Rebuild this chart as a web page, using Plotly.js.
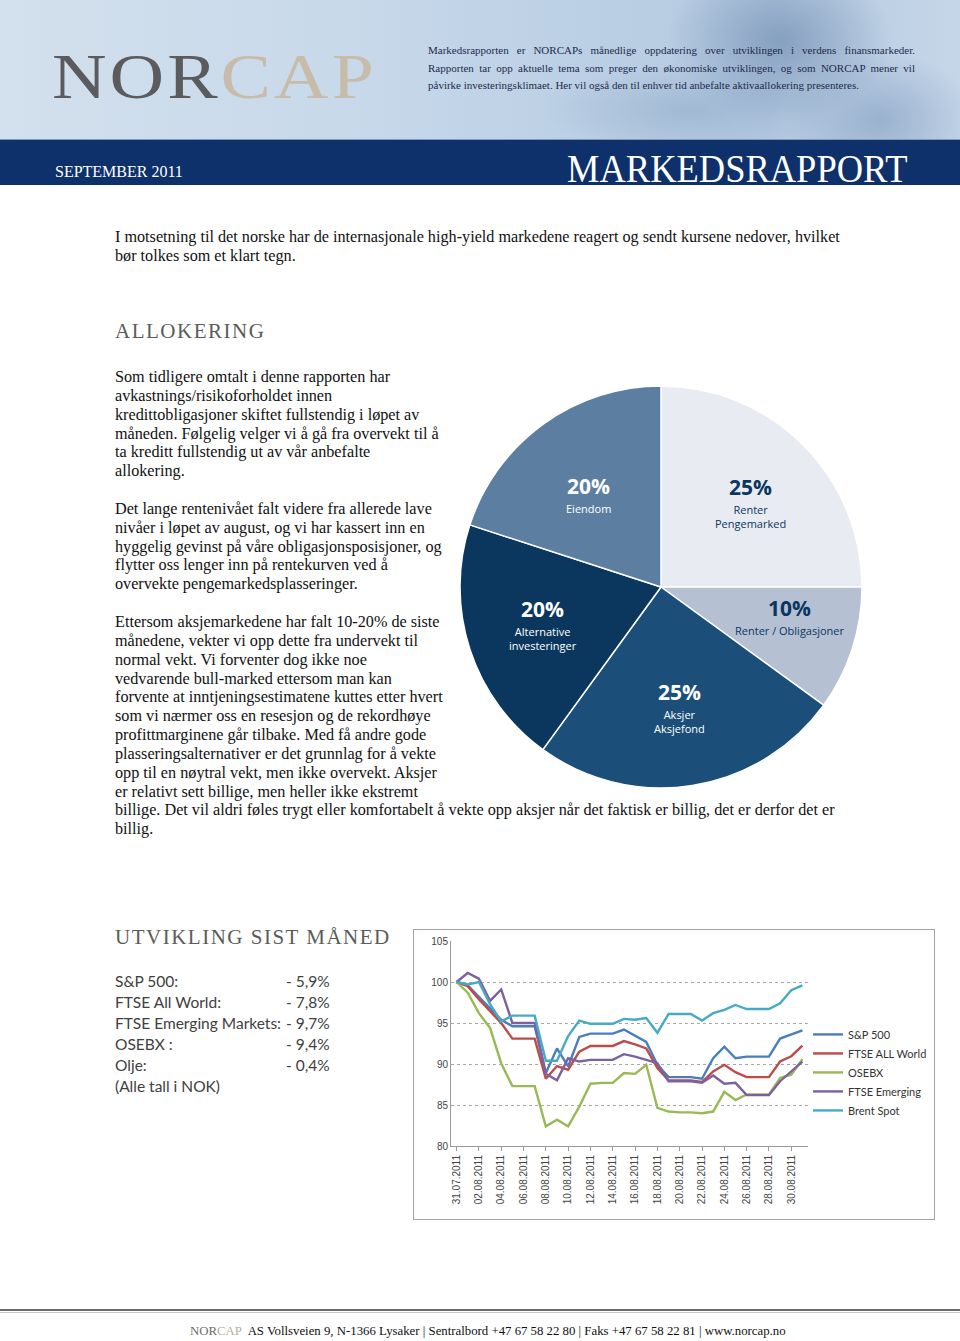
<!DOCTYPE html>
<html><head><meta charset="utf-8">
<script src="https://cdn.plot.ly/plotly-3.0.1.min.js"></script>
<style>
html,body{margin:0;padding:0;}
body{width:960px;height:1341px;position:relative;overflow:hidden;background:#fff;font-family:"Liberation Serif","Times New Roman",serif;color:#111;}
.abs{position:absolute;}
#hdr{left:0;top:0;width:960px;height:139px;
 background:
  radial-gradient(ellipse 150px 110px at 780px 40px, rgba(95,125,165,0.55), rgba(95,125,165,0) 75%),
  radial-gradient(ellipse 130px 90px at 880px 120px, rgba(110,140,180,0.45), rgba(110,140,180,0) 75%),
  radial-gradient(ellipse 200px 60px at 690px 110px, rgba(120,150,185,0.35), rgba(120,150,185,0) 75%),
  linear-gradient(90deg,#d3e0ed 0%,#c8d9ea 35%,#bcd0e5 60%,#b4c9e0 80%,#c5d6e8 100%);}
#band{left:0;top:139px;width:960px;height:46px;background:#0e306b;border-top:1px solid #7f97bd;box-sizing:border-box;}
#logo{left:52px;top:46px;font-size:63px;line-height:63px;letter-spacing:2.5px;white-space:nowrap;transform:scaleX(1.2);transform-origin:left top;}
#hdrtxt{left:428px;top:42px;width:487px;font-size:11px;line-height:17.5px;color:#1f2a4d;}
#hdrtxt div{text-align:justify;text-align-last:justify;white-space:nowrap;}
#hdrtxt div.last{text-align-last:left;}
#sept{left:55px;top:164px;font-size:16px;line-height:16px;color:#fff;white-space:nowrap;}
#mr{left:567px;top:148px;font-size:41px;line-height:41px;color:#fff;white-space:nowrap;transform:scaleX(0.89);transform-origin:left top;}
.body{font-size:16.2px;line-height:18.85px;white-space:nowrap;color:#111;}
.head{font-size:21px;line-height:21px;letter-spacing:1.5px;color:#5b5b5b;white-space:nowrap;}
#list{left:115px;top:971px;font-family:Lato,"Open Sans",sans-serif;font-size:15.5px;line-height:21px;color:#404040;white-space:nowrap;}
#list span.v{position:absolute;left:171px;}
#foot1{left:0;top:1309px;width:960px;height:2px;background:#6b6b68;}
#foot2{left:0;top:1312px;width:960px;height:1px;background:#c9c9c6;}
#foot{left:190px;top:1324px;font-size:12.8px;line-height:14px;white-space:nowrap;color:#111;}
#frame{left:413px;top:929px;width:520px;height:289px;border:1px solid #a3a3a3;}
#line{left:414px;top:930px;width:560px;height:289px;}
#pie{left:460px;top:386px;width:402px;height:402px;}
</style></head>
<body>
<div id="hdr" class="abs"></div>
<div id="logo" class="abs"><span style="color:#5b5b5d">NOR</span><span style="color:#c7bca9">CAP</span></div>
<div id="hdrtxt" class="abs">
<div>Markedsrapporten er NORCAPs månedlige oppdatering over utviklingen i verdens finansmarkeder.</div>
<div>Rapporten tar opp aktuelle tema som preger den økonomiske utviklingen, og som NORCAP mener vil</div>
<div class="last">påvirke investeringsklimaet. Her vil også den til enhver tid anbefalte aktivaallokering presenteres.</div>
</div>
<div id="band" class="abs"></div>
<div id="sept" class="abs">SEPTEMBER 2011</div>
<div id="mr" class="abs">MARKEDSRAPPORT</div>

<div class="abs body" style="left:115px;top:228px;line-height:19px;">I motsetning til det norske har de internasjonale high-yield markedene reagert og sendt kursene nedover, hvilket<br>bør tolkes som et klart tegn.</div>

<div class="abs head" style="left:115px;top:321px;">ALLOKERING</div>

<div class="abs body" style="left:115px;top:368px;">Som tidligere omtalt i denne rapporten har<br>avkastnings/risikoforholdet innen<br>kredittobligasjoner skiftet fullstendig i løpet av<br>måneden. Følgelig velger vi å gå fra overvekt til å<br>ta kreditt fullstendig ut av vår anbefalte<br>allokering.<br><br>Det lange rentenivået falt videre fra allerede lave<br>nivåer i løpet av august, og vi har kassert inn en<br>hyggelig gevinst på våre obligasjonsposisjoner, og<br>flytter oss lenger inn på rentekurven ved å<br>overvekte pengemarkedsplasseringer.<br><br>Ettersom aksjemarkedene har falt 10-20% de siste<br>månedene, vekter vi opp dette fra undervekt til<br>normal vekt. Vi forventer dog ikke noe<br>vedvarende bull-marked ettersom man kan<br>forvente at inntjeningsestimatene kuttes etter hvert<br>som vi nærmer oss en resesjon og de rekordhøye<br>profittmarginene går tilbake. Med få andre gode<br>plasseringsalternativer er det grunnlag for å vekte<br>opp til en nøytral vekt, men ikke overvekt. Aksjer<br>er relativt sett billige, men heller ikke ekstremt<br>billige. Det vil aldri føles trygt eller komfortabelt å vekte opp aksjer når det faktisk er billig, det er derfor det er<br>billig.</div>

<div id="pie" class="abs"></div>

<div class="abs head" style="left:115px;top:927px;">UTVIKLING SIST MÅNED</div>
<div id="list" class="abs"></div>

<div id="frame" class="abs"></div>
<div id="line" class="abs"></div>

<div id="foot1" class="abs"></div>
<div id="foot2" class="abs"></div>
<div id="foot" class="abs"><span style="color:#6d6d6d">NOR</span><span style="color:#b9ad98">CAP</span>&nbsp; AS Vollsveien 9, N-1366 Lysaker | Sentralbord +47 67 58 22 80 | Faks +47 67 58 22 81 | www.norcap.no</div>

<script>
// ---------- Pie data ----------
var pieLabels = ['Renter<br>Pengemarked', 'Renter / Obligasjoner', 'Aksjer<br>Aksjefond', 'Alternative<br>investeringer', 'Eiendom'];
var pieValues = [25, 10, 25, 20, 20];

// ---------- Monthly returns list ----------
var listNames = ['S&amp;P 500:', 'FTSE All World:', 'FTSE Emerging Markets:', 'OSEBX :', 'Olje:'];
var listValues = ['- 5,9%', '- 7,8%', '- 9,7%', '- 9,4%', '- 0,4%'];
var listNote = '(Alle tall i NOK)';

// ---------- Line chart data ----------
var dates = ['31.07.2011','01.08.2011','02.08.2011','03.08.2011','04.08.2011','05.08.2011','06.08.2011','07.08.2011',
 '08.08.2011','09.08.2011','10.08.2011','11.08.2011','12.08.2011','13.08.2011','14.08.2011','15.08.2011',
 '16.08.2011','17.08.2011','18.08.2011','19.08.2011','20.08.2011','21.08.2011','22.08.2011','23.08.2011',
 '24.08.2011','25.08.2011','26.08.2011','27.08.2011','28.08.2011','29.08.2011','30.08.2011','31.08.2011'];
var sp500 = [100, 99.6, 98.2, 96.8, 95.4, 94.6, 94.6, 94.6, 88.9, 91.9, 89.7, 93.3, 93.7, 93.7, 93.7, 94.2,
 93.4, 92.7, 89.9, 88.4, 88.4, 88.4, 88.2, 90.7, 92.1, 90.7, 90.9, 90.9, 90.9, 93.1, 93.6, 94.1];
var ftseWorld = [100, 99.5, 97.9, 96.4, 95.0, 93.1, 93.1, 93.1, 88.2, 89.75, 89.3, 91.5, 92.2, 92.2, 92.2, 92.8,
 92.4, 91.9, 89.5, 88.0, 88.0, 88.0, 87.8, 89.1, 89.9, 89.0, 88.4, 88.4, 88.4, 90.3, 90.95, 92.25];
var osebx = [100, 98.7, 96.2, 94.4, 90.1, 87.3, 87.3, 87.3, 82.4, 83.2, 82.4, 84.8, 87.6, 87.7, 87.7, 88.9,
 88.8, 89.9, 84.65, 84.2, 84.1, 84.1, 84.0, 84.2, 86.6, 85.6, 86.3, 86.3, 86.3, 88.3, 88.7, 90.6];
var ftseEmerging = [100, 101.1, 100.4, 97.7, 99.1, 95.0, 95.0, 95.0, 88.8, 88.0, 90.7, 90.3, 90.5, 90.5, 90.5, 91.2,
 90.9, 90.5, 90.1, 87.9, 87.9, 87.9, 87.7, 88.6, 87.6, 87.7, 86.2, 86.2, 86.2, 87.9, 89.1, 90.3];
var brentSpot = [100, 99.7, 100.0, 97.3, 95.2, 95.9, 95.9, 95.9, 90.4, 90.4, 93.4, 95.3, 94.9, 94.9, 94.9, 95.5,
 95.4, 95.6, 93.8, 96.1, 96.1, 96.1, 95.3, 96.2, 96.6, 97.2, 96.7, 96.7, 96.7, 97.4, 99.0, 99.6];
var seriesNames = ['S&P 500', 'FTSE ALL World', 'OSEBX', 'FTSE Emerging', 'Brent Spot'];

// ---------- styles ----------
var pieColors = ['#e8ecf2', '#b5c1d3', '#1b4f7a', '#0b375e', '#5c7fa1'];
var pieTextColors = ['#0b3660', '#0b3660', '#ffffff', '#ffffff', '#ffffff'];
var pieLabelRadius = [0.316, 0.33, 0.29, 0.305, 0.29];   // fraction of pie diameter
var pieLabelAngleShift = [0, -4.5, 0, 3, -2.5];          // degrees from slice mid-angle
var lineColors = ['#4a7ebb', '#be4b48', '#98b954', '#7d60a0', '#46aac5'];

// list
(function(){
  var h = '';
  for (var i = 0; i < listNames.length; i++) {
    h += '<div style="position:relative">' + listNames[i] + '<span class="v">' + listValues[i] + '</span></div>';
  }
  h += '<div>' + listNote + '</div>';
  document.getElementById('list').innerHTML = h;
})();

// pie
(function(){
  var total = pieValues.reduce(function(a,b){return a+b;}, 0);
  var ann = [], cum = 0;
  for (var i = 0; i < pieValues.length; i++) {
    var mid = (cum + pieValues[i]/2) / total * 2 * Math.PI + pieLabelAngleShift[i] * Math.PI / 180;
    cum += pieValues[i];
    var rr = pieLabelRadius[i];
    var x = 0.5 + rr * Math.sin(mid), y = 0.5 + rr * Math.cos(mid);
    ann.push({x:x, y:y, xref:'paper', yref:'paper', showarrow:false, xanchor:'center', yanchor:'middle', yshift:10,
      borderpad:0, text:'<b>' + pieValues[i] + '%</b>',
      font:{family:'Open Sans, sans-serif', size:21, color:pieTextColors[i]}});
    ann.push({x:x, y:y, xref:'paper', yref:'paper', showarrow:false, xanchor:'center', yanchor:'top', yshift:-4,
      borderpad:0, text:pieLabels[i],
      font:{family:'Open Sans, sans-serif', size:11, color:pieTextColors[i]}});
  }
  Plotly.newPlot('pie', [{
    type:'pie', values:pieValues, labels:pieLabels, sort:false, direction:'clockwise', rotation:0,
    marker:{colors:pieColors, line:{color:'#ffffff', width:1.5}}, textinfo:'none', hoverinfo:'none'
  }], {
    width:402, height:402, margin:{l:0,r:0,t:0,b:0}, showlegend:false,
    paper_bgcolor:'rgba(0,0,0,0)', annotations:ann
  }, {staticPlot:true});
})();

// line chart
(function(){
  var ys = [sp500, ftseWorld, osebx, ftseEmerging, brentSpot];
  var traces = ys.map(function(y, i){
    return {type:'scatter', mode:'lines', x:dates, y:y, name:seriesNames[i],
      line:{color:lineColors[i], width:2.4}};
  });
  var tv = dates.filter(function(d,i){return i % 2 === 0;});
  Plotly.newPlot('line', traces, {
    width:560, height:289, margin:{l:37, r:166, t:11, b:73},
    paper_bgcolor:'rgba(0,0,0,0)', plot_bgcolor:'rgba(0,0,0,0)',
    font:{family:'Liberation Sans, Arial, sans-serif', size:10, color:'#444'},
    xaxis:{type:'category', range:[-0.5, 31.5], tickmode:'array', tickvals:tv, ticktext:tv, tickangle:-90,
      showgrid:false, showline:true, linecolor:'#9a9a9a', linewidth:1, ticks:'outside', ticklen:4, tickcolor:'#9a9a9a',
      tickfont:{size:10, color:'#444'}},
    yaxis:{range:[80,105], dtick:5, showgrid:true, gridcolor:'#a8a8a8', griddash:'dot', gridwidth:1,
      showline:true, linecolor:'#9a9a9a', linewidth:1, zeroline:false, ticks:'', tickfont:{size:10, color:'#444'}},
    showlegend:true,
    legend:{x:1.0, xanchor:'left', y:0.615, yanchor:'top', font:{family:'Lato, Open Sans, sans-serif', size:11, color:'#333'},
      tracegroupgap:0, bgcolor:'rgba(0,0,0,0)'}
  }, {staticPlot:true});
})();
</script>
</body></html>
